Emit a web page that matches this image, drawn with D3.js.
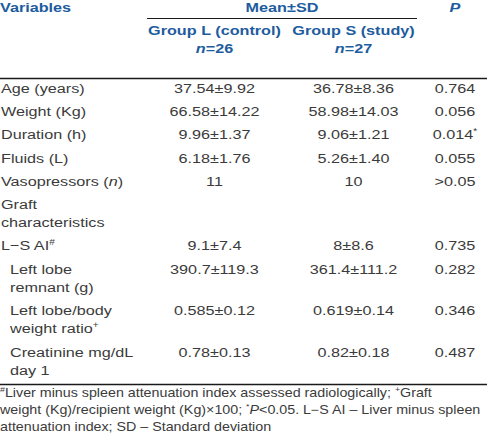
<!DOCTYPE html>
<html><head><meta charset="utf-8">
<script src="https://cdn.jsdelivr.net/npm/d3@7"></script>
<style>
body{margin:0;background:#fff}
svg{display:block}
text{font-family:"Liberation Sans",Arial,Helvetica,sans-serif}
</style>
</head><body>
<svg id="chart" width="487" height="433"></svg>
<script>
// ---- data ----
const headerVariables = "Variables";
const headerMean = "Mean±SD";
const headerP = "<i>P</i>";
const groupNames = ["Group L (control)", "Group S (study)"];
const groupNs = ["<i>n</i>=26", "<i>n</i>=27"];
const variables = ["Age (years)", "Weight (Kg)", "Duration (h)", "Fluids (L)", "Vasopressors (<i>n</i>)",
  "Graft|characteristics", "L−S AI<sup>#</sup>", "Left lobe|remnant (g)", "Left lobe/body|weight ratio<sup>+</sup>",
  "Creatinine mg/dL|day 1"];
const indented = [false, false, false, false, false, false, false, true, true, true];
const groupL = ["37.54±9.92", "66.58±14.22", "9.96±1.37", "6.18±1.76", "11", "", "9.1±7.4", "390.7±119.3", "0.585±0.12", "0.78±0.13"];
const groupS = ["36.78±8.36", "58.98±14.03", "9.06±1.21", "5.26±1.40", "10", "", "8±8.6", "361.4±111.2", "0.619±0.14", "0.82±0.18"];
const pValues = ["0.764", "0.056", "0.014<sup>*</sup>", "0.055", ">0.05", "", "0.735", "0.282", "0.346", "0.487"];
const footnotes = [
  "<sup>#</sup>Liver minus spleen attenuation index assessed radiologically; <sup>+</sup>Graft",
  "weight (Kg)/recipient weight (Kg)×100; <sup>*</sup><i>P</i>&lt;0.05. L−S AI – Liver minus spleen",
  "attenuation index; SD – Standard deviation"
];

// ---- layout ----
const W = 487, H = 433;
const sx = 1.2;               // horizontal stretch of glyphs
const fs = 13.5;
const fsNote = 11.9;
const blue = "#1d5c9e", ink = "#3b3b3b", rule = "#1a1a1a";

const svg = d3.select("#chart");
const g = svg.append("g").attr("transform", `scale(${sx},1)`);

const colX = d3.scaleOrdinal()
  .domain(["var", "varIndent", "mean", "L", "S", "P"])
  .range([1, 10, 282, 214.5, 353.5, 455].map(v => v / sx));

function rich(sel, str, size) {
  str = str.replace(/&lt;/g, "<");
  const parts = str.split(/(<\/?(?:i|sup)>)/);
  let italic = false, sup = false, shifted = false;
  parts.forEach(p => {
    if (p === "<i>") { italic = true; return; }
    if (p === "</i>") { italic = false; return; }
    if (p === "<sup>") { sup = true; return; }
    if (p === "</sup>") { sup = false; return; }
    if (!p) return;
    const t = sel.append("tspan").text(p);
    if (italic) t.attr("font-style", "italic");
    if (sup) {
      t.attr("font-size", size * 0.62).attr("dy", shifted ? 0 : -5);
      shifted = true;
    } else if (shifted) {
      t.attr("dy", 5); shifted = false;
    }
  });
}

function addText(x, y, str, anchor, opts = {}) {
  const size = opts.size || fs;
  const t = g.append("text")
    .attr("x", x).attr("y", y)
    .attr("text-anchor", anchor)
    .attr("font-size", size)
    .attr("fill", opts.fill || ink)
    .attr("font-weight", opts.bold ? "bold" : "normal");
  rich(t, str, size);
  return t;
}

// header
addText(colX("var") - 1 / sx, 12, headerVariables, "start", {bold: true, fill: blue});
addText(colX("mean"), 12, headerMean, "middle", {bold: true, fill: blue});
addText(colX("P"), 12, headerP, "middle", {bold: true, fill: blue});
g.append("line").attr("x1", 147 / sx).attr("x2", 417 / sx).attr("y1", 18.5).attr("y2", 18.5)
  .attr("stroke", rule).attr("stroke-width", 1);
["L", "S"].forEach((k, i) => {
  addText(colX(k), 35, groupNames[i], "middle", {bold: true, fill: blue});
  addText(colX(k), 53, groupNs[i], "middle", {bold: true, fill: blue});
});
g.append("line").attr("x1", 0).attr("x2", W / sx).attr("y1", 78.5).attr("y2", 78.5)
  .attr("stroke", rule).attr("stroke-width", 1.3);

// body rows
const firstBase = 93, rowStep = 23.2, lineStep = 18.3;
let base = firstBase;
let lastBase = base;
variables.forEach((v, i) => {
  const lines = v.split("|");
  const xv = indented[i] ? colX("varIndent") : colX("var");
  lines.forEach((ln, j) => addText(xv, base + j * lineStep, ln, "start"));
  if (groupL[i]) addText(colX("L"), base, groupL[i], "middle");
  if (groupS[i]) addText(colX("S"), base, groupS[i], "middle");
  if (pValues[i]) addText(colX("P"), base, pValues[i], "middle");
  lastBase = base + (lines.length - 1) * lineStep;
  base = lastBase + rowStep;
});

const ruleY = lastBase + 9.5;
g.append("line").attr("x1", 0).attr("x2", W / sx).attr("y1", ruleY).attr("y2", ruleY)
  .attr("stroke", rule).attr("stroke-width", 1.3);

footnotes.forEach((f, i) => addText(0, ruleY + 13 + i * 17, f, "start", {size: fsNote}));
</script>
</body></html>
